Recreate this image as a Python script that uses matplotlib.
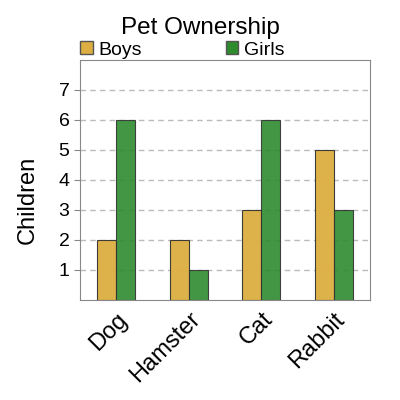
import numpy as np
import matplotlib.pyplot as plt
from matplotlib.patches import Patch

plt.rcParams['font.family'] = ['Liberation Sans', 'DejaVu Sans']

pets = ['Dog', 'Hamster', 'Cat', 'Rabbit']
boys = [2, 2, 3, 5]
girls = [6, 1, 6, 3]
series_names = ['Boys', 'Girls']
colors = ['#DDAE40', '#2E8B2E']

fig = plt.figure(figsize=(4, 4), dpi=100)
ax = fig.add_axes([0.2, 0.25, 0.725, 0.6])

x = np.arange(len(pets))
w = 0.26
ax.bar(x - w / 2, boys, w, color=colors[0], edgecolor='#333333', linewidth=0.8, alpha=0.95, zorder=2)
ax.bar(x + w / 2, girls, w, color=colors[1], edgecolor='#333333', linewidth=0.8, alpha=0.9, zorder=2)

ax.set_xlim(-0.5, 3.5)
ax.set_ylim(0, 8)
ax.set_yticks(range(1, 8))
ax.yaxis.grid(True, ls='--', color='#bbbbbb', lw=1, dashes=(4, 3), zorder=3)
ax.set_xticks(x)
ax.set_xticklabels(pets, rotation=45, ha='right', rotation_mode='anchor', fontsize=17)
ax.tick_params(axis='x', length=0, pad=6)
ax.tick_params(axis='y', labelsize=14, length=4, color='#888888')
for s in ax.spines.values():
    s.set_color('#888888')
fig.text(0.07, 0.5, 'Children', fontsize=17, rotation=90, ha='center', va='center')

fig.suptitle('Pet Ownership', fontsize=17.5, y=0.93, va='center')
handles = [Patch(facecolor=c, edgecolor='#555555') for c in colors]
ax.legend(handles, series_names, ncol=2, bbox_to_anchor=(0.0, 1.005), loc='lower left',
          frameon=False, fontsize=14, handlelength=0.65, handleheight=0.65,
          handletextpad=0.3, columnspacing=4.3, borderaxespad=0, borderpad=0)

fig.savefig('out.png', dpi=100)
